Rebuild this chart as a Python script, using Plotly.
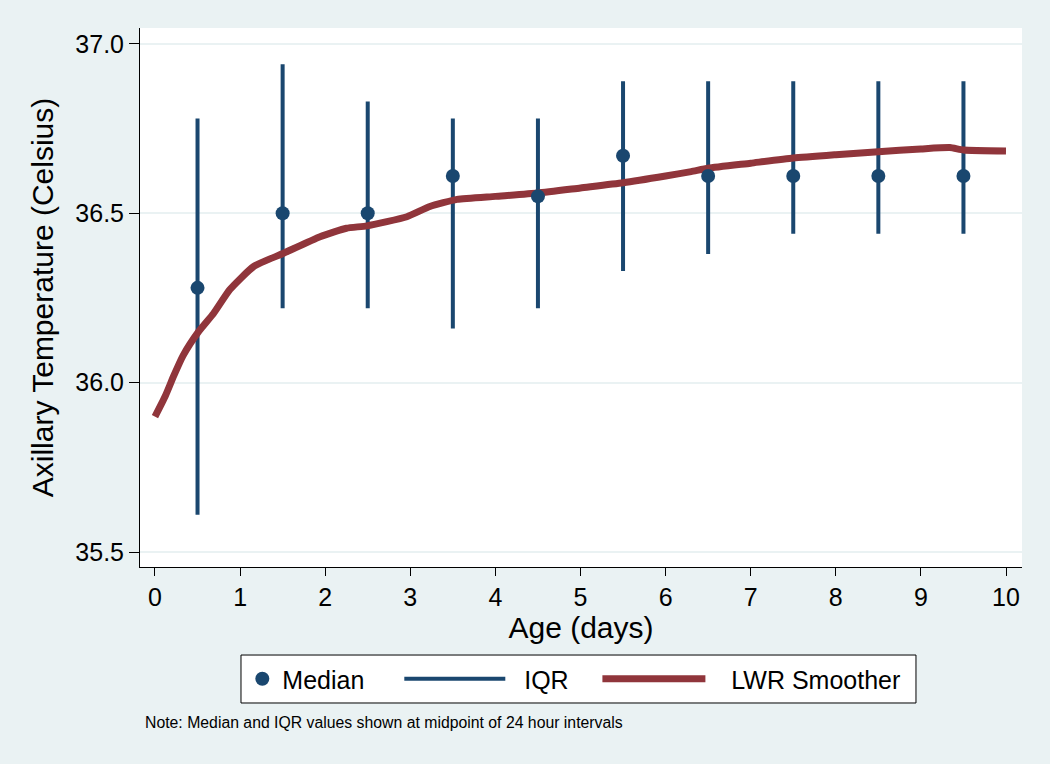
import plotly.graph_objects as go

# day midpoints with median and IQR of axillary temperature
day_mid = [0.5, 1.5, 2.5, 3.5, 4.5, 5.5, 6.5, 7.5, 8.5, 9.5]
median = [36.28, 36.50, 36.50, 36.61, 36.55, 36.67, 36.61, 36.61, 36.61, 36.61]
q1 = [35.61, 36.22, 36.22, 36.16, 36.22, 36.33, 36.38, 36.44, 36.44, 36.44]
q3 = [36.78, 36.94, 36.83, 36.78, 36.78, 36.89, 36.89, 36.89, 36.89, 36.89]

# LWR smoother
lwr_x = [0, 0.12, 0.22, 0.33, 0.51, 0.69, 0.88, 1.16, 1.51, 1.94, 2.25, 2.49, 2.96, 3.23, 3.55,
         4.0, 4.5, 5.0, 5.5, 6.0, 6.3, 6.5, 7.0, 7.5, 8.0, 8.5, 9.0, 9.34, 9.5, 10.0]
lwr_y = [35.90, 35.96, 36.02, 36.08, 36.15, 36.205, 36.275, 36.343, 36.382, 36.431, 36.456, 36.463,
         36.49, 36.52, 36.541, 36.55, 36.56, 36.575, 36.59, 36.61, 36.623, 36.633, 36.648, 36.663,
         36.673, 36.682, 36.69, 36.694, 36.687, 36.684]

x_ticks = list(range(0, 11))
y_ticks = [35.5, 36.0, 36.5, 37.0]

NAVY = "#1A476F"
MAROON = "#90353B"
BG = "#EAF2F3"
FONT = "Liberation Sans, Arial, sans-serif"

# iqr segments as one trace separated by gaps
iqr_x, iqr_y = [], []
for xm, lo, hi in zip(day_mid, q1, q3):
    iqr_x += [xm, xm, None]
    iqr_y += [lo, hi, None]

fig = go.Figure()
fig.add_trace(go.Scatter(
    x=iqr_x, y=iqr_y, mode="lines", name="&nbsp;&nbsp;IQR",
    line=dict(color=NAVY, width=4), legend="legend2",
))
fig.add_trace(go.Scatter(
    x=lwr_x, y=lwr_y, mode="lines", name="&nbsp;&nbsp;&nbsp;LWR Smoother",
    line=dict(color=MAROON, width=7, shape="spline", smoothing=0.5), legend="legend3",
))
fig.add_trace(go.Scatter(
    x=day_mid, y=median, mode="markers", name="Median",
    marker=dict(color=NAVY, size=14), legend="legend",
))

# one legend per entry so the spacing can follow the reference
leg_y = -0.2078
def leg(x, w):
    return dict(
        orientation="h", x=x, xanchor="left", y=leg_y, yanchor="middle",
        bgcolor="rgba(0,0,0,0)", borderwidth=0, font=dict(size=25), itemwidth=w,
    )

fig.update_layout(
    width=1050, height=764,
    paper_bgcolor=BG, plot_bgcolor="white",
    margin=dict(l=140, r=28, t=28, b=197),
    font=dict(family=FONT, size=25, color="black"),
    showlegend=True,
    legend=leg(0.116, 30),
    legend2=leg(0.294, 101),
    legend3=leg(0.5186, 103),
    shapes=[dict(
        type="rect", xref="paper", yref="paper",
        x0=0.1145, x1=0.8798, y0=-0.2523, y1=-0.1633,
        fillcolor="white", line=dict(color="black", width=1), layer="below",
    )],
    annotations=[dict(
        text="Note: Median and IQR values shown at midpoint of 24 hour intervals",
        xref="paper", yref="paper", x=0.003, y=-0.289, xanchor="left", yanchor="middle",
        showarrow=False, font=dict(family=FONT, size=15.8),
    )],
)
fig.update_xaxes(
    range=[-0.176, 10.188], tickvals=x_ticks, showgrid=False, zeroline=False,
    showline=True, linecolor="black", linewidth=1,
    ticks="outside", ticklen=8, tickcolor="black", tickwidth=1,
    title=dict(text="Age (days)", standoff=0),
)
fig.update_yaxes(
    range=[35.456, 37.047], tickvals=y_ticks, tickformat=".1f",
    showgrid=True, gridcolor=BG, gridwidth=2, zeroline=False,
    showline=True, linecolor="black", linewidth=1,
    ticks="outside", ticklen=10, tickcolor="black", tickwidth=1,
    title=dict(text="Axillary Temperature (Celsius)", standoff=12),
)

fig.write_html("out.html", config={"displayModeBar": False},
               post_script="document.body.style.margin='0';")
